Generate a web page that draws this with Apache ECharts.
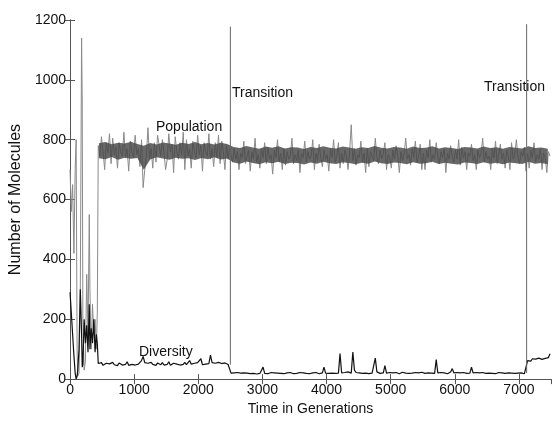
<!DOCTYPE html>
<html>
<head>
<meta charset="utf-8">
<script src="https://cdn.jsdelivr.net/npm/echarts@6/dist/echarts.min.js"></script>
<style>
  html, body { margin: 0; padding: 0; background: #fff; }
  #chart { width: 552px; height: 421px; }
</style>
</head>
<body>
<div id="chart"></div>
<script>
// early chaotic phase (generation, value)
const earlyGen = [0, 20, 40, 60, 80, 95, 110, 120, 140, 160, 180, 190, 200, 220, 240, 260, 280, 300, 310, 330, 350, 370, 390, 410, 425]
const earlyPop = [700, 560, 650, 420, 700, 800, 100, 10, 20, 300, 1140, 930, 200, 30, 60, 350, 150, 550, 300, 100, 250, 150, 200, 100, 220]
const earlyDiv = [290, 220, 150, 80, 20, 0, 10, 30, 100, 300, 150, 40, 50, 200, 120, 180, 90, 250, 100, 170, 120, 200, 90, 150, 120]

// stable phase, sampled every 25 generations
const STEP = 25
const pop1Start = 440
const pop1 = [
    780, 745, 810, 760, 700, 790, 755, 820, 720, 805,
    750, 775, 705, 790, 760, 745, 825, 740, 770, 695,
    795, 760, 740, 815, 750, 770, 710, 800, 640, 700,
    745, 840, 735, 770, 705, 790, 725, 815, 780, 745,
    800, 755, 700, 735, 820, 760, 785, 690, 810, 760,
    735, 790, 750, 825, 700, 800, 745, 770, 705, 795,
    760, 740, 815, 750, 780, 695, 790, 760, 745, 820,
    735, 770, 710, 790, 740, 815, 720, 795, 760, 700,
    780, 735, 770
]
const div1 = [
    52, 48, 55, 46, 50, 53, 47, 51, 49, 56,
    48, 52, 45, 54, 50, 47, 53, 49, 58, 46,
    51, 49, 54, 47, 52, 50, 48, 62, 76, 55,
    50, 53, 47, 56, 49, 52, 46, 54, 50, 48,
    55, 47, 52, 49, 58, 46, 51, 53, 48, 50,
    54, 47, 51, 49, 56, 48, 52, 62, 50, 47,
    53, 49, 55, 51, 68, 48, 54, 50, 47, 52,
    80, 55, 49, 53, 47, 56, 50, 52, 48, 54,
    51, 49, 53
]

const pop2Start = 2510
const pop2 = [
    750, 725, 770, 735, 760, 700, 755, 740, 795, 720,
    745, 765, 695, 760, 735, 805, 725, 750, 705, 770,
    740, 790, 720, 775, 735, 750, 685, 765, 740, 800,
    725, 755, 700, 770, 715, 760, 735, 745, 805, 720,
    750, 730, 765, 690, 755, 740, 795, 725, 760, 735,
    745, 800, 700, 755, 730, 785, 740, 710, 765, 735,
    750, 695, 770, 740, 800, 725, 745, 790, 705, 755,
    720, 765, 745, 700, 760, 850, 730, 770, 715, 750,
    740, 795, 725, 755, 690, 770, 710, 760, 745, 730,
    805, 740, 720, 765, 735, 755, 790, 700, 750, 740,
    705, 765, 735, 780, 745, 690, 760, 730, 755, 805,
    735, 750, 715, 770, 740, 795, 725, 745, 785, 700,
    755, 700, 765, 740, 800, 725, 750, 735, 790, 745,
    720, 760, 740, 770, 690, 755, 735, 780, 745, 725,
    765, 735, 800, 715, 775, 740, 760, 700, 755, 745,
    785, 730, 750, 700, 765, 740, 755, 805, 725, 760,
    735, 745, 700, 770, 740, 795, 720, 750, 785, 735,
    755, 705, 765, 745, 700, 790, 735, 750, 800, 740,
    720, 760, 745, 775, 695, 755, 705, 765, 740, 790,
    725, 750, 735, 770, 700, 755, 740, 690, 760, 745
]
const div2 = [
    20, 18, 21, 19, 22, 17, 20, 19, 21, 18,
    20, 22, 18, 21, 19, 20, 17, 22, 19, 21,
    40, 19, 21, 18, 20, 22, 19, 21, 18, 20,
    21, 19, 23, 18, 20, 21, 19, 22, 20, 18,
    21, 19, 20, 22, 18, 21, 20, 19, 22, 18,
    20, 21, 19, 22, 20, 18, 24, 21, 40, 20,
    22, 19, 21, 20, 23, 19, 22, 20, 85, 21,
    20, 22, 19, 24, 21, 20, 90, 30, 22, 20,
    21, 25, 19, 22, 20, 21, 18, 22, 20, 21,
    70, 24, 20, 19, 22, 21, 45, 20, 19, 22,
    20, 21, 19, 22, 20, 18, 21, 23, 19, 20,
    22, 19, 21, 20, 18, 22, 20, 21, 19, 23,
    20, 19, 22, 21, 18, 20, 22, 19, 65, 21,
    20, 22, 19, 21, 20, 18, 22, 24, 35, 21,
    19, 22, 20, 21, 18, 22, 20, 19, 21, 20,
    40, 21, 19, 22, 20, 21, 18, 22, 20, 19,
    21, 20, 22, 19, 21, 18, 20, 22, 19, 21,
    20, 19, 22, 21, 18, 20, 21, 19, 22, 20,
    19, 21, 20, 18, 21, 62, 66, 60, 68, 63,
    67, 61, 70, 64, 66, 62, 69, 65, 72, 85
]

// dense dark core of the population trace, every 100 generations from 450
const bandStart = 450
const bandStep = 100
const bandLow = [
    738, 735, 742, 733, 740, 736, 739, 700, 734, 741,
    737, 733, 740, 736, 738, 732, 739, 735, 741, 734, 737,
    724, 720, 727, 722, 718, 725, 721, 726, 719, 723,
    722, 717, 724, 720, 726, 721, 719, 725, 722, 718,
    723, 720, 727, 721, 719, 724, 722, 718, 725, 720,
    721, 726, 719, 723, 720, 717, 724, 722, 719, 725,
    720, 723, 718, 724, 721, 719, 726, 720, 722, 718
]
const bandHigh = [
    788, 792, 785, 790, 787, 793, 786, 780, 789, 784,
    791, 787, 783, 790, 786, 792, 785, 789, 784, 790, 786,
    776, 772, 779, 774, 770, 777, 773, 778, 771, 775,
    774, 769, 776, 772, 778, 773, 771, 777, 774, 770,
    775, 772, 779, 773, 771, 776, 774, 770, 777, 772,
    773, 778, 771, 775, 772, 769, 776, 774, 771, 777,
    772, 775, 770, 776, 773, 771, 778, 772, 774, 770
]

// transition markers: generation, top and bottom of the vertical line
const transGen = [2500, 7120]
const transTop = [1178, 1186]
const transBottom = [48, 20]

function buildSeries(gens, vals, start, step) {
    let out = []
    vals.forEach((v, i) => {
        out.push([gens ? gens[i] : start + i * step, v])
    })
    return out
}

const popData = buildSeries(earlyGen, earlyPop)
    .concat(buildSeries(null, pop1, pop1Start, STEP))
    .concat(buildSeries(null, pop2, pop2Start, STEP))
const divData = buildSeries(earlyGen, earlyDiv)
    .concat(buildSeries(null, div1, pop1Start, STEP))
    .concat(buildSeries(null, div2, pop2Start, STEP))

const FONT = 'Liberation Sans, Arial, sans-serif'
const frameColor = '#555'

// polygon between bandLow and bandHigh, placed through the axes
function renderBand(params, api) {
    let pts = []
    bandHigh.forEach((h, i) => {
        pts.push(api.coord([bandStart + i * bandStep, h]))
    })
    for (let i = bandLow.length - 1; i >= 0; i--) {
        pts.push(api.coord([bandStart + i * bandStep, bandLow[i]]))
    }
    return {
        type: 'polygon',
        shape: { points: pts },
        style: { fill: '#474747', opacity: 0.82 }
    }
}

let transSeries = transGen.map((g, i) => ({
    type: 'line',
    data: [[g, transBottom[i]], [g, transTop[i]]],
    symbol: 'none',
    silent: true,
    lineStyle: { color: '#666', width: 1 },
    z: 5
}))

let option = {
    animation: false,
    backgroundColor: '#fff',
    grid: { left: 67, right: 1, top: 20, bottom: 36, containLabel: false },
    xAxis: [{
        type: 'value',
        min: 0, max: 7500, interval: 1000,
        name: 'Time in Generations',
        nameLocation: 'middle',
        nameGap: 21,
        nameTextStyle: { fontFamily: FONT, fontSize: 14, color: '#111' },
        axisLine: { lineStyle: { color: frameColor } },
        axisTick: { inside: true, length: 5, lineStyle: { color: frameColor } },
        axisLabel: { fontFamily: FONT, fontSize: 14, color: '#111', margin: 4, showMaxLabel: false, formatter: v => String(v) },
        splitLine: { show: false }
    }, {
        type: 'value', position: 'top',
        min: 0, max: 7500, interval: 1000,
        axisLine: { lineStyle: { color: frameColor } },
        axisTick: { inside: true, length: 5, lineStyle: { color: frameColor } },
        axisLabel: { show: false },
        splitLine: { show: false }
    }],
    yAxis: [{
        type: 'value',
        min: 0, max: 1200, interval: 200,
        name: 'Number of Molecules',
        nameLocation: 'middle',
        nameGap: 37,
        nameTextStyle: { fontFamily: FONT, fontSize: 16, color: '#111' },
        axisLine: { show: true, lineStyle: { color: frameColor } },
        axisTick: { show: true, inside: true, length: 5, lineStyle: { color: frameColor } },
        axisLabel: { fontFamily: FONT, fontSize: 14, color: '#111', margin: 4, formatter: v => String(v) },
        splitLine: { show: false }
    }, {
        type: 'value', position: 'right',
        min: 0, max: 1200, interval: 200,
        axisLine: { show: true, lineStyle: { color: frameColor } },
        axisTick: { show: true, inside: true, length: 5, lineStyle: { color: frameColor } },
        axisLabel: { show: false },
        splitLine: { show: false }
    }],
    series: [{
        name: 'Population',
        type: 'line',
        data: popData,
        symbol: 'none',
        lineStyle: { color: '#8a8a8a', width: 1 },
        z: 2
    }, {
        name: 'PopulationCore',
        type: 'custom',
        data: [[bandStart, bandLow[0]]],
        renderItem: renderBand,
        silent: true,
        z: 3
    }, {
        name: 'Diversity',
        type: 'line',
        data: divData,
        symbol: 'none',
        lineStyle: { color: '#111', width: 1.2 },
        z: 4
    }].concat(transSeries),
    graphic: [
        { type: 'text', left: 156, top: 120, style: { text: 'Population', font: '14px ' + FONT, fill: '#111' } },
        { type: 'text', left: 232, top: 86, style: { text: 'Transition', font: '14px ' + FONT, fill: '#111' } },
        { type: 'text', left: 484, top: 80, style: { text: 'Transition', font: '14px ' + FONT, fill: '#111' } },
        { type: 'text', left: 139, top: 345, style: { text: 'Diversity', font: '14px ' + FONT, fill: '#111' } }
    ]
}

let myChart = echarts.init(document.getElementById('chart'), null, { renderer: 'canvas' })
myChart.setOption(option)
</script>
</body>
</html>
